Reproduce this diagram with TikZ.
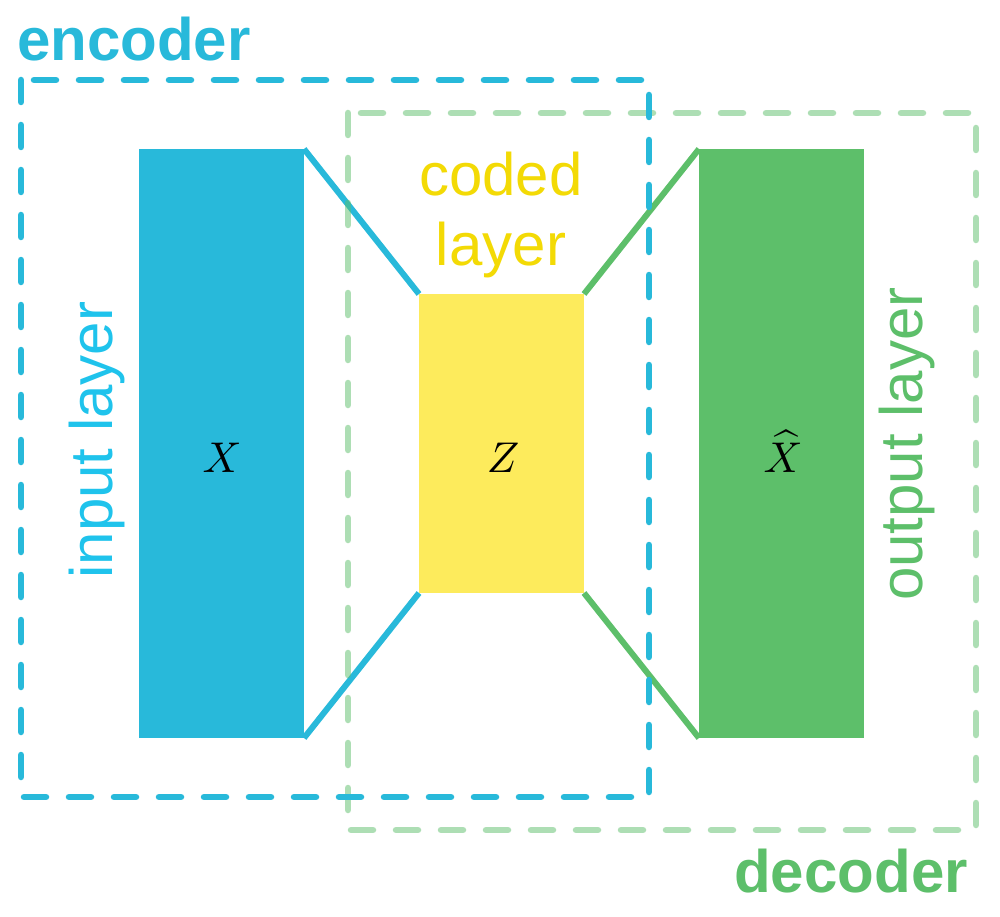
\documentclass[tikz,border=0pt]{standalone}
\usepackage{fontspec}
\setmainfont{Liberation Sans}
\definecolor{encblue}{HTML}{28B9DA}
\definecolor{txtblue}{HTML}{1FC3EC}
\definecolor{codyel}{HTML}{FDEB5C}
\definecolor{txtyel}{HTML}{F3DA05}
\definecolor{decgreen}{HTML}{5DBF6A}
\newcommand{\bigmath}[1]{\scalebox{4.3}{$#1$}}
\begin{document}
\begin{tikzpicture}[x=1pt,y=-1pt,
  linkline/.style={line width=6pt},
  groupbox/.style={line width=6.5pt,line cap=round,dash pattern=on 22pt off 23pt},
  bigtext/.style={font=\fontsize{60}{70}\selectfont,inner sep=0pt},
  mathlabel/.style={inner sep=0pt,anchor=base}]
\useasboundingbox[fill=white] (0,0) rectangle (1000,917);
% layer boxes
\fill[encblue] (139,149) rectangle (304,738);
\fill[codyel] (419,294) rectangle (584,593);
\fill[decgreen] (699,149) rectangle (864,738);
\coordinate (inTR) at (304,149);
\coordinate (inBR) at (304,738);
\coordinate (zTL) at (419,294);
\coordinate (zBL) at (419,593);
\coordinate (zTR) at (584,294);
\coordinate (zBR) at (584,593);
\coordinate (outTL) at (699,149);
\coordinate (outBL) at (699,738);
% connectors
\draw[linkline,encblue] (inTR) -- (zTL);
\draw[linkline,encblue] (inBR) -- (zBL);
\draw[linkline,decgreen] (zTR) -- (outTL);
\draw[linkline,decgreen] (zBR) -- (outBL);
% group boxes
\draw[groupbox,decgreen,draw opacity=0.5] (348,113) rectangle (976,830);
\draw[groupbox,encblue] (21,80) rectangle (649,797);
% labels
\node[bigtext,anchor=base,text=encblue,font=\fontsize{60}{70}\selectfont\bfseries] (enc) at (134,61) {encoder};
\node[bigtext,anchor=base,text=decgreen,font=\fontsize{60}{70}\selectfont\bfseries] (dec) at (851,892) {decoder};
\node[bigtext,anchor=base,align=center,text=txtyel] (coded) at (501,265) {coded\\layer};
\node[bigtext,anchor=base,rotate=90,text=txtblue] (inlab) at (112,440) {input layer};
\node[bigtext,anchor=base,rotate=90,text=decgreen] (outlab) at (922,444) {output layer};
\node[mathlabel] (x) at (222,472) {\bigmath{X}};
\node[mathlabel] (z) at (503,472) {\bigmath{Z}};
\node[mathlabel] (xhat) at (783,472) {\bigmath{\widehat{X}}};
\end{tikzpicture}
\end{document}
